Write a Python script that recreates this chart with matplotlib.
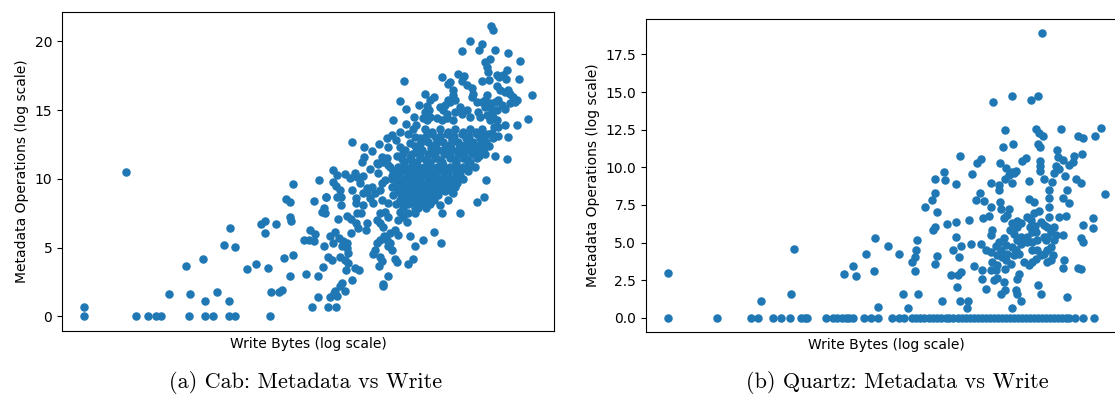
import matplotlib
matplotlib.use("Agg")
import matplotlib.pyplot as plt

# ---- Cab: (write log-bytes, metadata log-ops) ----
cab_low = [
    (4.2, 0.7), (4.2, 0), (6.29, 10.5), (6.79, 0), (7.39, 0), (7.77, 0), (8.02, 0),
    (8.45, 1.64), (9.3, 3.65), (9.49, 1.64), (9.45, 0), (10.15, 4.18), (10.24, 1.14),
    (10.24, 0), (10.65, 0), (10.84, 1.81), (11.2, 5.2), (11.5, 6.43), (11.44, 1.14),
    (11.44, 0), (11.75, 0), (11.72, 5.07), (12.34, 3.45), (12.8, 3.79), (13.05, 6.72),
    (13.22, 6.96), (13.22, 6.06), (13.4, 3.5), (13.47, 0), (13.55, 1.81), (13.8, 6.72),
    (13.92, 1.81), (14.1, 1.96), (14.19, 4.28), (14.27, 8.55), (14.5, 8.33),
    (14.47, 7.22), (14.52, 6.96), (14.64, 4.47), (14.47, 2.92), (14.64, 9.64),
]

cab_mid = [
    (15.7, 8.38), (16.17, 7.88), (16.3, 8.67), (16.09, 7.63), (16.25, 7.51), (17.05, 8.67),
    (17.05, 8.12), (16.8, 9.49), (16.67, 9.8), (15.95, 9.9), (17.59, 9.2), (17.8, 8.6),
    (17.8, 8.28), (18.14, 8.12), (17.37, 7.32), (17.55, 7.08), (17.84, 7.51), (18.04, 7.51),
    (16.92, 7.1), (18.37, 6.79), (17.8, 6.79), (17.89, 6.43), (18.3, 6.3), (17.55, 6.06),
    (15.47, 6.3), (15.72, 6.01), (15.17, 5.53), (15.42, 5.58), (15.67, 5.46), (16.17, 5.14),
    (16.64, 5.34), (16.5, 5.82), (16.75, 6.18), (16.97, 5.7), (17.17, 5.46), (17.34, 5.34),
    (17.09, 5.1), (17.34, 4.98), (17.42, 4.62), (16.42, 4.33), (16.59, 4.13), (17.0, 4.33),
    (17.25, 4.13), (17.42, 3.89), (16.14, 3.6), (17.29, 3.41), (17.75, 3.53), (17.95, 3.36),
    (17.62, 2.68), (15.3, 3.07), (15.89, 2.97), (17.09, 2.44), (17.0, 2.2), (16.75, 1.88),
    (17.25, 1.88), (16.87, 1.47), (16.5, 1.43), (15.87, 1.43), (15.59, 0.72), (16.42, 0.72),
    (16.79, 0.72), (16.7, 1.72), (19.0, 5.58), (18.84, 5.34), (18.75, 4.86), (18.67, 4.57),
    (19.0, 4.33), (19.09, 4.01), (18.97, 3.7), (19.17, 2.39), (19.14, 2.25), (19.39, 2.92),
    (19.2, 5.82), (19.34, 5.53), (19.42, 5.1), (19.5, 5.34), (19.59, 4.86), (19.75, 4.18),
    (19.84, 3.94), (20.39, 3.84), (20.64, 4.18), (20.75, 5.1), (20.5, 5.87), (21.17, 5.58),
    (21.72, 6.11), (22.04, 5.34), (18.84, 7.03), (19.0, 6.79), (19.17, 6.5), (19.0, 7.51),
    (19.25, 7.63), (19.42, 7.27), (19.92, 7.03), (20.0, 7.63), (20.17, 7.27), (20.34, 6.9),
    (20.42, 7.51), (19.5, 6.06), (19.75, 6.3), (19.92, 5.94), (20.75, 7.51), (20.92, 7.88),
    (22.09, 7.51), (23.0, 7.51), (23.84, 8.36), (24.2, 8.72), (22.0, 8.12), (22.42, 8.48),
    (22.67, 8.96), (22.75, 9.44), (18.22, 11.6), (18.89, 11.09), (19.09, 11.6), (19.34, 11.5),
    (19.84, 11.67), (20.09, 11.43), (20.5, 11.6), (19.42, 11.01), (16.67, 10.65),
    (16.84, 10.29), (17.25, 10.36), (17.5, 10.05), (17.75, 10.41), (17.84, 10.17),
    (18.17, 10.22), (17.0, 9.2), (16.84, 8.72), (18.34, 9.08), (18.59, 9.44), (18.75, 8.96),
    (19.0, 9.2), (19.09, 9.69), (19.25, 9.93), (18.5, 8.6), (18.67, 8.24), (19.09, 8.48),
    (19.42, 8.24), (17.6, 12.66), (18.2, 12.32), (18.95, 12.51), (19.34, 12.99),
    (19.42, 12.34), (18.84, 11.14), (19.64, 14.28), (18.0, 9.73), (18.17, 8.96),
    (18.34, 9.33), (16.29, 8.72), (20.5, 12.59), (20.25, 12.1), (20.17, 11.86),
    (19.17, 11.25), (19.5, 10.89), (18.6, 12.0), (19.8, 12.8), (20.0, 13.4), (19.6, 13.2),
    (18.5, 10.7), (18.9, 10.4), (19.6, 10.2), (20.0, 12.3), (20.4, 13.3), (18.1, 11.2),
    (20.3, 14.0), (20.8, 13.9),
]

cab_upper = [
    (24.54, 21.09), (24.67, 20.8), (23.49, 20.07), (24.12, 19.83), (23.95, 19.35),
    (23.09, 19.28), (24.77, 19.4), (25.4, 19.18), (25.99, 18.6), (24.24, 18.5),
    (24.5, 18.74), (24.34, 18.14), (24.42, 17.78), (25.34, 17.9), (25.17, 17.54),
    (25.3, 17.3), (24.97, 17.41), (24.87, 17.54), (25.94, 17.3), (22.12, 17.41),
    (22.92, 17.61), (23.22, 17.46), (20.19, 17.1), (22.5, 17.05), (22.42, 16.93),
    (23.09, 17.12), (23.34, 16.81), (24.09, 17.1), (24.47, 17.17), (22.67, 16.5),
    (23.59, 16.64), (23.67, 16.21), (24.84, 16.74), (25.0, 16.5), (25.25, 16.33),
    (25.5, 16.21), (25.67, 15.96), (25.87, 15.72), (26.59, 16.09), (21.27, 16.21),
    (21.7, 15.96), (21.5, 15.72), (22.67, 16.09), (22.42, 15.72), (20.0, 15.67),
    (20.29, 15.12), (20.94, 15.41), (21.34, 15.29), (21.45, 15.0), (22.0, 15.24),
    (22.17, 15.0), (22.34, 14.76), (23.0, 15.24), (23.34, 15.05), (22.75, 14.88),
    (24.09, 15.6), (24.34, 16.09), (24.25, 15.24), (24.5, 15.24), (24.67, 15.0),
    (24.92, 15.72), (25.09, 15.36), (25.25, 15.12), (25.5, 15.49), (25.75, 15.6),
    (20.72, 14.51), (21.17, 14.4), (21.5, 14.51), (21.84, 14.4), (20.67, 13.67),
    (20.75, 13.07), (25.87, 13.91), (26.39, 14.35), (25.25, 13.91), (25.39, 13.02),
    (24.92, 13.12), (24.59, 13.36), (24.77, 11.69), (25.34, 11.45), (24.29, 9.93),
    (22.59, 9.08), (25.42, 16.45), (22.75, 15.72), (23.59, 15.96), (24.25, 15.72),
    (24.5, 15.49), (24.75, 15.6), (24.84, 15.0), (24.59, 14.88), (23.84, 15.6),
    (23.92, 14.88), (24.0, 14.51), (24.34, 14.64), (24.67, 14.51), (24.5, 14.28),
    (24.84, 14.28), (24.7, 13.79), (24.92, 13.79), (21.25, 14.88), (22.25, 15.36),
    (22.5, 15.6), (23.09, 14.76), (23.5, 14.51), (21.34, 14.28), (22.09, 14.28),
    (22.34, 14.4), (22.67, 14.28),
]

# dense core, one row of x values per y level
cab_core_y = [13.6, 13.45, 13.3, 13.15, 13.0, 12.85, 12.7, 12.55, 12.4, 12.25,
              12.1, 11.95, 11.8, 11.65, 11.5, 11.35, 11.2, 11.05, 10.9, 10.75,
              10.6, 10.45, 10.3, 10.15, 10.0, 9.85, 9.7, 9.55, 9.4, 9.25,
              9.1, 8.95, 8.8, 8.65, 8.5, 8.35, 8.2, 7.9]
cab_core_x = [
    [21.25, 22.0, 22.75, 23.5, 24.1],
    [21.6, 22.4, 23.15, 23.8],
    [21.6, 22.35, 23.1, 23.85, 24.4],
    [21.3, 22.0, 22.7, 23.45, 24.2],
    [21.0, 21.8, 22.6, 23.3, 24.0, 24.65],
    [21.2, 21.95, 22.6, 23.4, 24.1],
    [21.4, 22.15, 22.9, 23.65, 24.3],
    [21.0, 21.8, 22.55, 23.3, 24.05],
    [20.75, 21.6, 22.4, 23.1, 23.8, 24.45],
    [20.9, 21.55, 22.25, 22.95, 23.6, 24.2],
    [21.1, 21.9, 22.6, 23.35, 24.05],
    [20.8, 21.6, 22.35, 23.05, 23.75],
    [20.6, 21.4, 22.2, 22.9, 23.6, 24.25],
    [21.0, 21.75, 22.5, 23.2, 23.95],
    [21.0, 21.75, 22.5, 23.15, 23.85],
    [20.55, 21.3, 22.0, 22.75, 23.35],
    [20.2, 20.8, 21.5, 22.1, 22.8, 23.5],
    [20.2, 20.85, 21.5, 22.15, 22.8, 23.45],
    [19.9, 20.55, 21.2, 21.85, 22.5, 23.15, 23.75],
    [19.95, 20.6, 21.25, 21.9, 22.5, 23.1],
    [19.65, 20.25, 20.9, 21.5, 22.15, 22.8, 23.4],
    [19.8, 20.4, 21.0, 21.6, 22.2, 22.8],
    [19.95, 20.6, 21.2, 21.8, 22.4, 23.0],
    [19.75, 20.4, 21.0, 21.65, 22.25, 22.85],
    [19.6, 20.2, 20.85, 21.45, 22.05, 22.65, 23.15],
    [20.1, 20.75, 21.4, 22.0, 22.6],
    [19.85, 20.5, 21.1, 21.7, 22.3, 22.85],
    [19.9, 20.5, 21.1, 21.7, 22.3],
    [19.6, 20.2, 20.8, 21.4, 22.0, 22.5],
    [20.2, 20.8, 21.4, 22.0],
    [19.9, 20.5, 21.1, 21.7, 22.25],
    [20.0, 20.6, 21.2, 21.75],
    [19.65, 20.25, 20.85, 21.4, 21.9],
    [20.3, 20.9, 21.45],
    [20.0, 20.6, 21.15, 21.7],
    [20.1, 20.7, 21.25],
    [19.8, 20.4, 21.0, 21.5],
    [20.15, 20.75, 21.3],
]

# ---- Quartz ----
quartz_zero_x = [
    4.39, 6.85, 8.55, 8.87, 9.64, 10.04, 10.5, 11.05, 11.22, 11.35, 12.3, 12.65, 12.85,
    13.1, 13.3, 13.45, 13.65, 14.17, 14.55, 14.89, 15.59, 15.92, 16.17, 16.6, 16.8, 17.0,
    17.2, 17.4, 17.6, 17.8, 18.0, 18.25, 18.4, 18.6, 18.85, 19.05, 19.25, 19.45, 19.65,
    19.85, 20.05, 20.25, 20.45, 20.65, 20.85, 21.05, 21.25, 21.45, 21.65, 21.85, 22.05,
    22.25, 22.45, 22.65, 22.85, 23.05, 23.25, 23.45, 23.65, 23.85, 24.05, 24.25, 24.42,
    24.72, 25.09, 25.67,
]

quartz_points = [
    (4.39, 3.0), (9.04, 1.11), (10.52, 1.6), (10.67, 4.57), (13.2, 2.89), (13.64, 3.42),
    (13.79, 2.75), (14.29, 4.27), (14.7, 3.09), (14.72, 5.33), (14.87, 0.69), (15.37, 4.77),
    (15.92, 4.22), (16.12, 1.6), (16.37, 0.67), (16.89, 1.6), (16.59, 3.71), (16.75, 3.09),
    (16.84, 5.15), (16.8, 4.53), (16.72, 4.04), (17.25, 7.37), (17.59, 7.82), (17.72, 8.31),
    (17.8, 7.04), (17.72, 6.04), (17.64, 5.82), (17.8, 4.11), (17.72, 3.55), (18.09, 1.09),
    (18.17, 9.71), (18.2, 9.15), (17.7, 9.22), (18.34, 6.2), (18.64, 4.49), (18.75, 5.37),
    (18.77, 8.89), (18.77, 6.37), (18.92, 4.04), (18.87, 2.82), (18.8, 2.04), (19.04, 3.04),
    (18.54, 2.82), (19.04, 4.75), (18.95, 10.75), (18.95, 1.09), (19.37, 1.11),
    (19.34, 0.67), (19.42, 6.47), (19.5, 4.93), (19.55, 9.55), (19.67, 3.44),
    (19.84, 10.31), (20.0, 10.53), (19.97, 8.27), (19.79, 7.82), (20.17, 7.75),
    (20.0, 4.89), (20.25, 4.49), (20.5, 4.37), (20.75, 4.75), (20.09, 3.15), (20.09, 2.55),
    (20.25, 1.93), (20.5, 8.97), (20.5, 7.37), (20.42, 6.75), (20.14, 6.6), (20.55, 5.82),
    (20.5, 5.49), (20.5, 3.15), (20.75, 3.15), (20.8, 2.64), (20.67, 2.49), (20.59, 3.71),
    (20.84, 3.49), (20.64, 14.31), (20.92, 8.82), (20.92, 8.49), (20.95, 10.27),
    (20.97, 7.71), (21.0, 7.22), (20.92, 5.04), (21.0, 4.49), (20.84, 4.15), (21.09, 4.04),
    (21.04, 1.6), (21.14, 11.37), (21.17, 6.6), (21.17, 5.27), (21.17, 2.37), (21.2, 12.49),
    (21.2, 1.82), (21.22, 9.2), (21.22, 3.27), (21.25, 4.82), (21.25, 3.82), (21.27, 9.97),
    (21.34, 6.82), (21.34, 4.27), (21.42, 9.49), (21.42, 7.2), (21.47, 5.82), (21.5, 3.6),
    (21.59, 14.75), (21.59, 9.67), (21.59, 8.97), (21.59, 6.27), (21.59, 4.71),
    (21.59, 0.67), (21.64, 11.55), (21.67, 5.6), (21.67, 4.15), (21.67, 9.6), (21.75, 9.75),
    (21.75, 4.49), (21.75, 1.82), (21.8, 6.42), (21.84, 6.04), (21.84, 5.15), (21.84, 2.6),
    (21.84, 1.6), (21.92, 4.27), (21.92, 2.93), (22.0, 6.31), (22.0, 5.37), (22.0, 4.93),
    (22.04, 1.09), (22.05, 10.44), (22.17, 3.71), (22.29, 10.64), (22.34, 6.71),
    (22.34, 5.37), (22.34, 5.04), (22.42, 9.09), (22.42, 7.87), (22.42, 3.49),
    (22.47, 6.04), (22.5, 14.49), (22.5, 6.49), (22.59, 5.71), (22.59, 5.04), (22.59, 4.49),
    (22.59, 3.71), (22.67, 7.71), (22.67, 6.93), (22.7, 6.09), (22.75, 5.71), (22.75, 3.93),
    (22.79, 12.55), (22.8, 5.15), (22.84, 4.49), (22.85, 14.71), (22.89, 11.55),
    (22.89, 2.2), (22.92, 12.31), (22.92, 7.09), (22.95, 10.44), (22.95, 10.09),
    (22.95, 9.75), (22.97, 11.37), (23.0, 6.37), (23.0, 4.15), (23.0, 1.6), (23.09, 18.91),
    (23.1, 12.09), (23.17, 9.2), (23.17, 6.15), (23.17, 5.37), (23.17, 4.27), (23.25, 5.15),
    (23.34, 6.04), (23.34, 5.37), (23.34, 4.49), (23.34, 3.71), (23.42, 8.49), (23.42, 7.93),
    (23.42, 7.37), (23.42, 6.71), (23.5, 4.71), (23.5, 3.82), (23.54, 5.71), (23.59, 9.04),
    (23.6, 4.15), (23.67, 9.64), (23.67, 6.04), (23.67, 5.15), (23.75, 10.09), (23.75, 5.49),
    (23.8, 11.15), (23.84, 10.71), (23.89, 9.87), (23.92, 6.71), (24.0, 12.53),
    (24.09, 10.49), (24.09, 5.49), (24.09, 3.31), (24.1, 7.97), (24.14, 3.82), (24.19, 9.42),
    (24.25, 6.77), (24.29, 1.38), (24.3, 8.49), (24.39, 10.15), (24.39, 7.6), (24.59, 10.37),
    (24.67, 10.77), (24.75, 9.2), (24.84, 12.11), (24.84, 3.33), (25.0, 8.95), (25.0, 5.27),
    (25.0, 3.27), (25.05, 10.87), (25.09, 11.97), (25.09, 5.04), (25.12, 6.15), (25.6, 6.64),
    (25.6, 5.97), (25.72, 12.11), (26.0, 12.64), (26.22, 8.2),
]

cab_x = [p[0] for p in cab_low + cab_mid + cab_upper]
cab_y = [p[1] for p in cab_low + cab_mid + cab_upper]
for yv, row in zip(cab_core_y, cab_core_x):
    cab_x += row
    cab_y += [yv] * len(row)

q_x = list(quartz_zero_x) + [p[0] for p in quartz_points]
q_y = [0.0] * len(quartz_zero_x) + [p[1] for p in quartz_points]

fig = plt.figure(figsize=(11.15, 4.01), dpi=100)
ax1 = fig.add_axes([0.0556, 0.1746, 0.4413, 0.7955])
ax2 = fig.add_axes([0.5794, 0.1721, 0.4314, 0.7805])

for ax, xs, ys in [(ax1, cab_x, cab_y), (ax2, q_x, q_y)]:
    ax.scatter(xs, ys, s=26, color='#1f77b4')
    ax.set_xticks([])
    ax.set_xlabel('Write Bytes (log scale)', fontsize=10)
    ax.set_ylabel('Metadata Operations (log scale)', fontsize=10)
    ax.tick_params(axis='y', labelsize=10)

# captions in Computer Modern (cmr10 ships with matplotlib)
fig.text(306 / 1115, 1 - 383 / 401, '(a) Cab: Metadata vs Write',
         ha='center', va='center', fontsize=16, family='cmr10')
fig.text(897 / 1115, 1 - 383 / 401, '(b) Quartz: Metadata vs Write',
         ha='center', va='center', fontsize=16, family='cmr10')

fig.savefig('out.png', dpi=100)
